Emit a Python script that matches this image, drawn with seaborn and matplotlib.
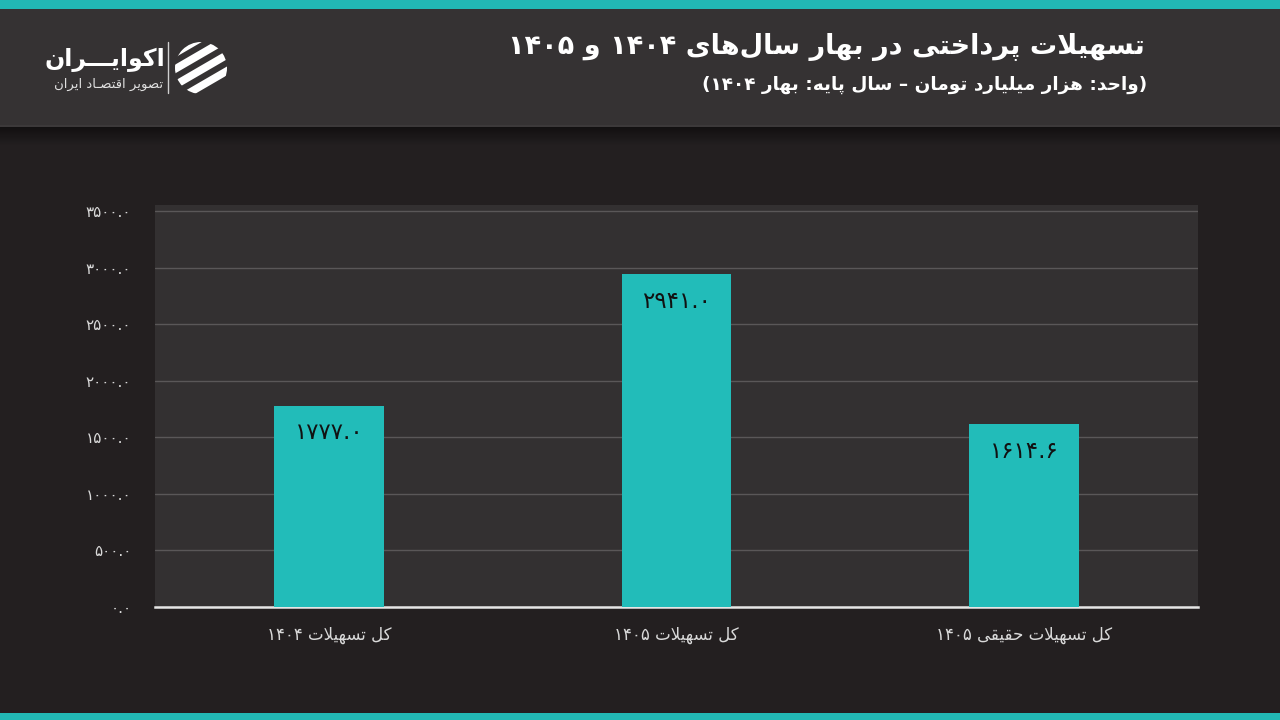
import re
import numpy as np
import pandas as pd
import matplotlib
matplotlib.use("Agg")
import matplotlib.pyplot as plt
import seaborn as sns
from matplotlib.patches import Rectangle, Circle
from matplotlib.ticker import FuncFormatter
from matplotlib.colors import LinearSegmentedColormap

# ---------------- data ----------------
title = "تسهیلات پرداختی در بهار سال‌های ۱۴۰۴ و ۱۴۰۵"
subtitle = "(واحد: هزار میلیارد تومان – سال پایه: بهار ۱۴۰۴)"
categories = ["کل تسهیلات ۱۴۰۴", "کل تسهیلات ۱۴۰۵", "کل تسهیلات حقیقی ۱۴۰۵"]
values = [1777.0, 2941.0, 1614.6]
yticks = [0, 500, 1000, 1500, 2000, 2500, 3000, 3500]
brand = "اکوایـــران"
brand_sub = "تصویر اقتصـاد ایران"

# ---------------- Persian shaping helpers ----------------
_F = {
    '\u0622': ('\uFE81', '\uFE82'), '\u0627': ('\uFE8D', '\uFE8E'),
    '\u062F': ('\uFEA9', '\uFEAA'), '\u0630': ('\uFEAB', '\uFEAC'),
    '\u0631': ('\uFEAD', '\uFEAE'), '\u0632': ('\uFEAF', '\uFEB0'),
    '\u0698': ('\uFB8A', '\uFB8B'), '\u0648': ('\uFEED', '\uFEEE'),
    '\u0628': ('\uFE8F', '\uFE90', '\uFE91', '\uFE92'),
    '\u067E': ('\uFB56', '\uFB57', '\uFB58', '\uFB59'),
    '\u062A': ('\uFE95', '\uFE96', '\uFE97', '\uFE98'),
    '\u062B': ('\uFE99', '\uFE9A', '\uFE9B', '\uFE9C'),
    '\u062C': ('\uFE9D', '\uFE9E', '\uFE9F', '\uFEA0'),
    '\u0686': ('\uFB7A', '\uFB7B', '\uFB7C', '\uFB7D'),
    '\u062D': ('\uFEA1', '\uFEA2', '\uFEA3', '\uFEA4'),
    '\u062E': ('\uFEA5', '\uFEA6', '\uFEA7', '\uFEA8'),
    '\u0633': ('\uFEB1', '\uFEB2', '\uFEB3', '\uFEB4'),
    '\u0634': ('\uFEB5', '\uFEB6', '\uFEB7', '\uFEB8'),
    '\u0635': ('\uFEB9', '\uFEBA', '\uFEBB', '\uFEBC'),
    '\u0636': ('\uFEBD', '\uFEBE', '\uFEBF', '\uFEC0'),
    '\u0637': ('\uFEC1', '\uFEC2', '\uFEC3', '\uFEC4'),
    '\u0638': ('\uFEC5', '\uFEC6', '\uFEC7', '\uFEC8'),
    '\u0639': ('\uFEC9', '\uFECA', '\uFECB', '\uFECC'),
    '\u063A': ('\uFECD', '\uFECE', '\uFECF', '\uFED0'),
    '\u0641': ('\uFED1', '\uFED2', '\uFED3', '\uFED4'),
    '\u0642': ('\uFED5', '\uFED6', '\uFED7', '\uFED8'),
    '\u06A9': ('\uFB8E', '\uFB8F', '\uFB90', '\uFB91'),
    '\u06AF': ('\uFB92', '\uFB93', '\uFB94', '\uFB95'),
    '\u0644': ('\uFEDD', '\uFEDE', '\uFEDF', '\uFEE0'),
    '\u0645': ('\uFEE1', '\uFEE2', '\uFEE3', '\uFEE4'),
    '\u0646': ('\uFEE5', '\uFEE6', '\uFEE7', '\uFEE8'),
    '\u0647': ('\uFEE9', '\uFEEA', '\uFEEB', '\uFEEC'),
    '\u06CC': ('\uFBFC', '\uFBFD', '\uFBFE', '\uFBFF'),
    '\u0640': ('\u0640', '\u0640', '\u0640', '\u0640'),
}


def _dual(c):
    return c in _F and len(_F[c]) == 4


def fa(s):
    chars = list(s)
    n = len(chars)
    out = []
    i = 0
    while i < n:
        c = chars[i]
        if c not in _F:
            if c != '\u200c':
                out.append(c)
            i += 1
            continue
        prev = chars[i - 1] if i > 0 else ''
        jp = _dual(prev)
        if c == '\u0644' and i + 1 < n and chars[i + 1] in ('\u0627', '\u0622'):
            if chars[i + 1] == '\u0627':
                out.append('\uFEFC' if jp else '\uFEFB')
            else:
                out.append('\uFEF6' if jp else '\uFEF5')
            i += 2
            continue
        nxt = chars[i + 1] if i + 1 < n else ''
        jn = _dual(c) and nxt in _F
        f = _F[c]
        if jp and jn:
            g = f[3]
        elif jp:
            g = f[1]
        elif jn:
            g = f[2]
        else:
            g = f[0]
        out.append(g)
        i += 1
    shaped = ''.join(out)
    toks = re.findall(r'[0-9\u06F0-\u06F9]+(?:[.\u066B][0-9\u06F0-\u06F9]+)*|.', shaped, re.S)
    vis = ''.join(reversed(toks))
    return vis.translate(str.maketrans("()", ")("))


_DIG = str.maketrans("0123456789", "۰۱۲۳۴۵۶۷۸۹")


def fa_num(v):
    return f"{v:.1f}".translate(_DIG)


# ---------------- figure ----------------
sns.set_theme(style="dark")
plt.rcParams['font.family'] = ['DejaVu Sans']

BG = "#231f20"
HEADER = "#353233"
TEAL = "#22bcb9"
PLOT_BG = "#333031"

fig = plt.figure(figsize=(12.8, 7.2), dpi=100, facecolor=BG)

# background / decoration layer in pixel coordinates
bg = fig.add_axes([0, 0, 1, 1], zorder=0)
bg.set_xlim(0, 1280)
bg.set_ylim(720, 0)
bg.axis("off")
bg.add_patch(Rectangle((0, 0), 1280, 9, color="#22b8b4", lw=0))
bg.add_patch(Rectangle((0, 9), 1280, 118, color=HEADER, lw=0))
bg.add_patch(Rectangle((0, 125), 1280, 2, color="#3c393a", lw=0))
grad = np.linspace(0, 1, 50).reshape(-1, 1)
cm = LinearSegmentedColormap.from_list("sh", ["#121011", BG])
bg.imshow(grad, cmap=cm, extent=(0, 1280, 145, 127), aspect="auto", zorder=1)
bg.add_patch(Rectangle((0, 713), 1280, 7, color="#22b8b4", lw=0))

# titles
bg.text(1145, 47, fa(title), ha="right", va="center", fontsize=19.5,
        fontweight="bold", color="white")
bg.text(1147, 85, fa(subtitle), ha="right", va="center", fontsize=13.3,
        fontweight="bold", color="white")

# logo
bg.text(165, 60, fa(brand), ha="right", va="center", fontsize=17,
        fontweight="bold", color="white")
bg.text(163, 84, fa(brand_sub), ha="right", va="center", fontsize=9.5,
        color="#e0e0e0")
bg.plot([167.5, 167.5], [42, 93], color="#cfcfcf", lw=1)
clip = Circle((201, 68), 26, transform=bg.transData)
for off in [-30, -14, 2, 18]:
    ln, = bg.plot([170, 232], [68 + off + 18, 68 + off - 18], color="white",
                  lw=5.5, solid_capstyle="butt")
    ln.set_clip_path(clip)

# main bar chart
ax = fig.add_axes([155 / 1280, 1 - 607 / 720, (1198 - 155) / 1280, (607 - 205) / 720], zorder=2)
df = pd.DataFrame({"cat": [fa(c) for c in categories], "val": values})
sns.barplot(data=df, x="cat", y="val", ax=ax, color=TEAL, saturation=1,
            width=0.315, zorder=3, edgecolor=TEAL, linewidth=0)
ax.set_facecolor(PLOT_BG)
ax.set_xlim(-0.5, 2.5)
ax.set_ylim(0, 3553)
ax.set_yticks(yticks)
ax.yaxis.set_major_formatter(FuncFormatter(lambda v, p: fa_num(v)))
ax.grid(axis="y", color="#5a5758", lw=1, zorder=0)
ax.grid(axis="x", visible=False)
ax.set_axisbelow(True)
for s in ["top", "right", "left"]:
    ax.spines[s].set_visible(False)
ax.spines["bottom"].set_color("#e6e6e6")
ax.spines["bottom"].set_linewidth(1.8)
ax.set_xlabel("")
ax.set_ylabel("")
ax.tick_params(axis="y", colors="#d9d9d9", labelsize=11, length=0, pad=17)
ax.tick_params(axis="x", colors="#d9d9d9", labelsize=12, length=0, pad=14)

for i, v in enumerate(values):
    ax.annotate(fa_num(v), (i, v), xytext=(0, -27), textcoords="offset pixels",
                ha="center", va="center", fontsize=16.5, color="#111111", zorder=5)

fig.savefig("out.png", dpi=100, facecolor=BG)
